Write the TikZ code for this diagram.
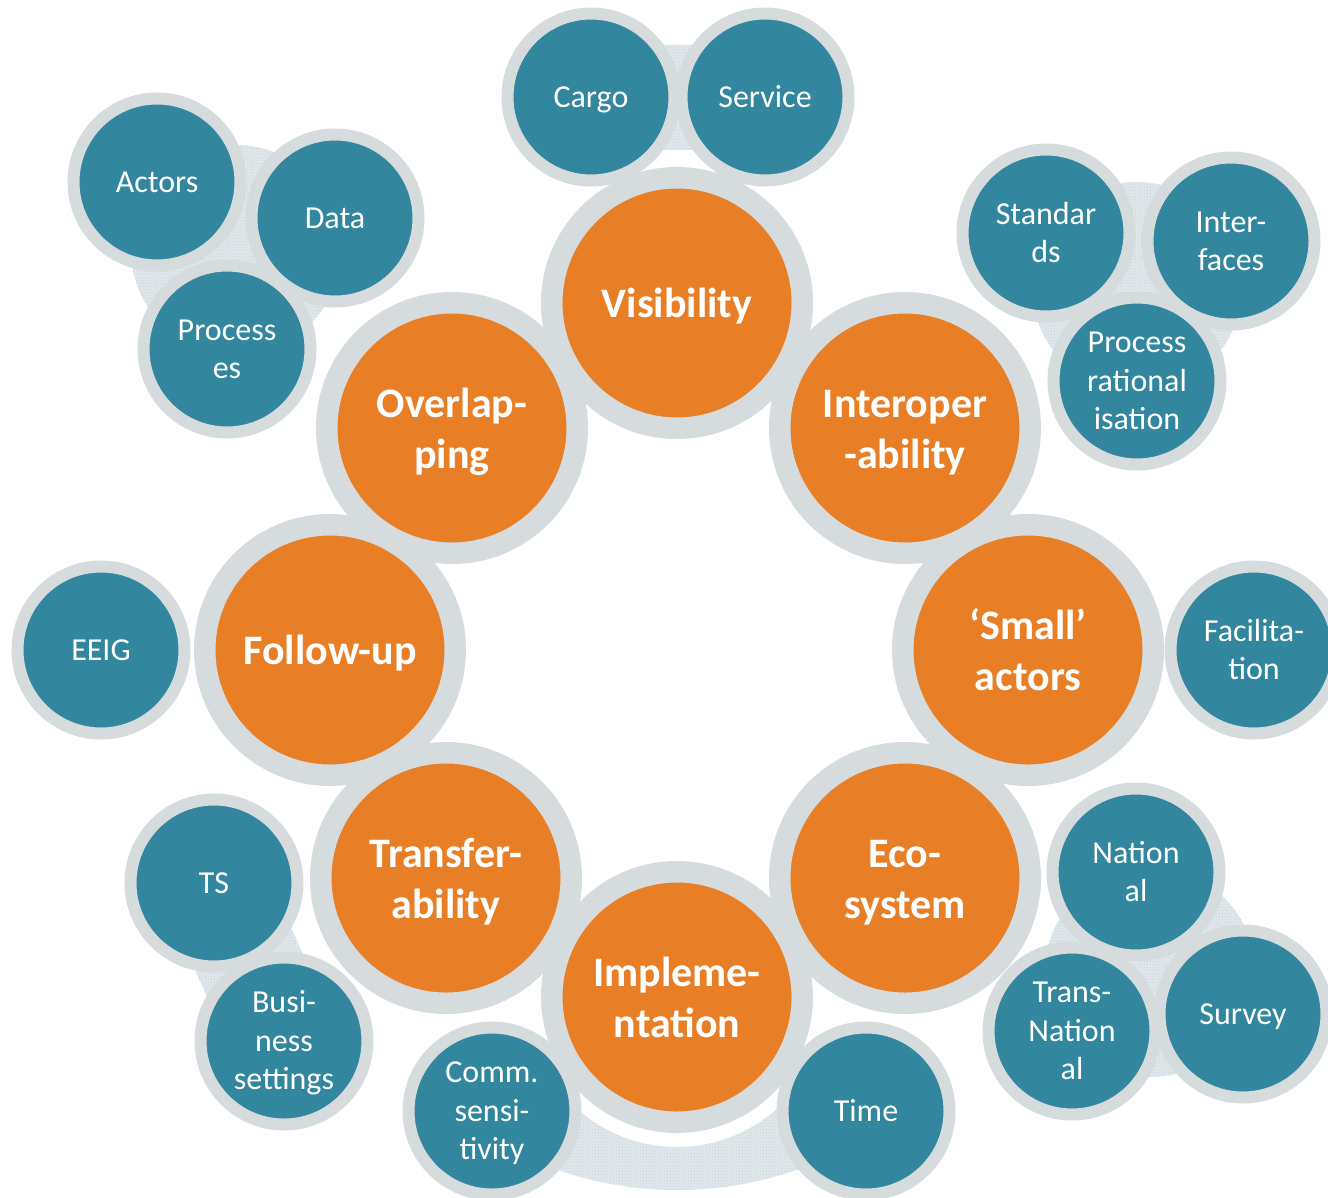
\documentclass[tikz,border=0pt]{standalone}
\usepackage{fontspec}
\setmainfont{Carlito}
\usetikzlibrary{patterns,calc}
\definecolor{tealc}{HTML}{32869D}
\definecolor{orangec}{HTML}{E87E25}
\definecolor{ringc}{HTML}{D6DCDE}
\definecolor{hatchbg}{HTML}{E1E8EC}
\definecolor{hatchdot}{HTML}{C6D3DA}
\newcommand\stS{\rule[-9pt]{0pt}{38.5pt}}
\newcommand\stO{\rule[-11pt]{0pt}{51pt}}
\tikzset{
  sub/.style={circle, draw=ringc, line width=12pt, fill=tealc, minimum size=167pt,
    inner sep=0pt, text=white, align=center, font=\fontsize{32}{38.5}\selectfont},
  mainc/.style={circle, draw=ringc, line width=21.5pt, fill=orangec, minimum size=250.5pt,
    inner sep=0pt, text=white, align=center, font=\fontsize{42}{51}\selectfont\bfseries},
  hatch/.style={fill=hatchbg, postaction={pattern=crosshatch dots, pattern color=hatchdot}}
}
\begin{document}
\begin{tikzpicture}[x=1pt,y=-1pt]
\useasboundingbox (0,0) rectangle (1328,1197);
\clip (0,0) rectangle (1328,1197);
\fill[white] (0,0) rectangle (1328,1197);
% centres
\coordinate (cCargo) at (591,97);
\coordinate (cService) at (765,97);
\coordinate (cActors) at (157,182);
\coordinate (cData) at (335,218);
\coordinate (cProc) at (227,349);
\coordinate (cStd) at (1046,233);
\coordinate (cIntf) at (1231,241);
\coordinate (cPRat) at (1137,381);
\coordinate (cEEIG) at (101,650);
\coordinate (cFac) at (1254,650);
\coordinate (cTS) at (214,883);
\coordinate (cBus) at (284,1041);
\coordinate (cComm) at (492,1111);
\coordinate (cTime) at (866,1111);
\coordinate (cNat) at (1136,872);
\coordinate (cTNat) at (1072,1031);
\coordinate (cSurv) at (1243,1014);
% background hatched shapes
\fill[hatch] (236,250) circle [radius=105pt];
\fill[hatch] (1137,287) circle [radius=105pt];
\fill[hatch] (1150,972) circle [radius=105pt];
\fill[hatch] ($(cCargo)+(0,-52.5)$) rectangle ($(cService)+(0,52.5)$);
\fill[hatch] ($(cTS)!52.5pt!90:(cBus)$) -- ($(cBus)!52.5pt!-90:(cTS)$)
  -- ($(cBus)!52.5pt!90:(cTS)$) -- ($(cTS)!52.5pt!-90:(cBus)$) -- cycle;
\begin{scope}
  \clip (480,1040) rectangle (880,1197);
  \fill[hatch, even odd rule] (677,826) circle [radius=364pt] (677,997) circle [radius=150pt];
\end{scope}
% main cycle
\node[mainc] (vis) at (677,303) {\stO Visibility};
\node[mainc] (ovl) at (452,428) {\stO Overlap-\\\stO ping};
\node[mainc] (int) at (905,428) {\stO Interoper\\\stO -ability};
\node[mainc] (fol) at (330,650) {\stO Follow-up};
\node[mainc] (sma) at (1028,650) {\stO ‘Small’\\\stO actors};
\node[mainc] (tra) at (446,878) {\stO Transfer-\\\stO ability};
\node[mainc] (eco) at (905,878) {\stO Eco-\\\stO system};
\node[mainc] (imp) at (677,997) {\stO Impleme-\\\stO ntation};
% satellites
\node[sub] (cargo) at (cCargo) {\stS Cargo};
\node[sub] (service) at (cService) {\stS Service};
\node[sub] (actors) at (cActors) {\stS Actors};
\node[sub] (data) at (cData) {\stS Data};
\node[sub] (proc) at (cProc) {\stS Process\\\stS es};
\node[sub] (std) at (cStd) {\stS Standar\\\stS ds};
\node[sub] (intf) at (cIntf) {\stS Inter-\\\stS faces};
\node[sub] (prat) at (cPRat) {\stS Process\\\stS rational\\\stS isation};
\node[sub] (eeig) at (cEEIG) {\stS EEIG};
\node[sub] (fac) at (cFac) {\stS Facilita-\\\stS tion};
\node[sub] (ts) at (cTS) {\stS TS};
\node[sub] (bus) at (cBus) {\stS Busi-\\\stS ness\\\stS settings};
\node[sub] (comm) at (cComm) {\stS Comm.\\\stS sensi-\\\stS tivity};
\node[sub] (time) at (cTime) {\stS Time};
\node[sub] (nat) at (cNat) {\stS Nation\\\stS al};
\node[sub] (tnat) at (cTNat) {\stS Trans-\\\stS Nation\\\stS al};
\node[sub] (surv) at (cSurv) {\stS Survey};
\end{tikzpicture}
\end{document}
